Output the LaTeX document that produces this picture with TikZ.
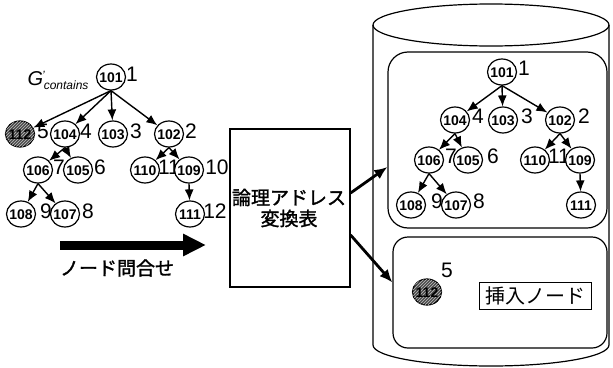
\documentclass[tikz,border=0pt]{standalone}
\usepackage{fontspec}
\setmainfont{Liberation Sans}
\newfontfamily\jpfont{Noto Sans CJK JP}
\newfontfamily\jpbfont[FakeBold=1.5]{Noto Sans CJK JP}
\usetikzlibrary{arrows.meta,patterns,shapes.geometric}
\newcommand{\cn}[1]{\smash{\makebox[0pt]{\raisebox{-5pt}{#1}}}}
\tikzset{
  tn/.style={ellipse, draw, fill=white, line width=1.2pt, minimum width=29pt, minimum height=26pt, inner sep=0pt, font=\fontsize{14}{14}\selectfont\bfseries},
  hat/.style={tn, fill=black!70, postaction={pattern=north east lines, pattern color=black!25}},
  num/.style={font=\fontsize{21}{21}\selectfont, inner sep=0pt},
  tarr/.style={-{Latex[length=11pt,width=9pt]}, line width=1.4pt},
  barr/.style={-{Latex[length=13pt,width=11pt]}, line width=2.8pt},
  jp/.style={font=\jpbfont\fontsize{19}{21}\selectfont, inner sep=0pt},
}
\begin{document}
\begin{tikzpicture}[x=1pt,y=-1pt]
\useasboundingbox (0,0) rectangle (613,367);
% ---------- left tree ----------
\node[num] (lg) at (58,80) {{\fontsize{20}{20}\selectfont\itshape G}\hspace{-1pt}\raisebox{6pt}{\fontsize{12}{12}\selectfont\itshape '}\hspace{-1pt}\raisebox{-4pt}{\fontsize{12}{12}\selectfont\itshape contains}};
\node[num] (l1) at (132,74) {1};
\node[num] (l5) at (43,131) {5};
\node[num] (l4) at (86,131) {4};
\node[num] (l3) at (136,131) {3};
\node[num] (l2) at (191,131) {2};
\node[num] (l7) at (59,167) {7};
\node[num] (l6) at (100,167) {6};
\node[num] (l11) at (169,167) {11};
\node[num] (l10) at (217,167) {10};
\node[num] (l9) at (46,211) {9};
\node[num] (l8) at (88,211) {8};
\node[num] (l12) at (215,211) {12};
\node[tn] (a101) at (111,77) {\cn{101}};
\node[hat] (a112) at (20,134) {\cn{112}};
\node[tn] (a104) at (65,134) {\cn{104}};
\node[tn] (a103) at (113,134) {\cn{103}};
\node[tn] (a102) at (169,134) {\cn{102}};
\node[tn] (a106) at (38,170) {\cn{106}};
\node[tn] (a105) at (78,170) {\cn{105}};
\node[tn] (a110) at (145,170) {\cn{110}};
\node[tn] (a109) at (189,170) {\cn{109}};
\node[tn] (a108) at (21,214) {\cn{108}};
\node[tn] (a107) at (65,214) {\cn{107}};
\node[tn] (a111) at (190,214) {\cn{111}};
\draw[tarr] (a101.south) -- (a112);
\draw[tarr] (a101.south) -- (a104);
\draw[tarr] (a101.south) -- (a103);
\draw[tarr] (a101.south) -- (a102);
\draw[tarr] (a104.south) -- (a106);
\draw[tarr] (a104.south) -- (a105);
\draw[tarr] (a102.south) -- (a110);
\draw[tarr] (a102.south) -- (a109);
\draw[tarr] (a106.south) -- (a108);
\draw[tarr] (a106.south) -- (a107);
\draw[tarr] (a109.south) -- (a111);
% ---------- query arrow ----------
\coordinate (qa) at (60,245);
\coordinate (qb) at (206,245);
\draw[line width=9pt, -{Triangle[length=23pt,width=21pt]}] (qa) -- (qb);
\node[jp] (qt) at (117,268) {ノード問合せ};
% ---------- middle table ----------
\node[draw, line width=1.2pt, minimum width=120pt, minimum height=158pt, inner sep=0pt] (mid) at (290,208) {};
\node[jp, align=center] (midt) at (289,208) {論理アドレス\\変換表};
% ---------- cylinder ----------
\draw[line width=1.2pt] (491,25) ellipse [x radius=118pt, y radius=21pt];
\draw[line width=1.2pt] (373,25) -- (373,345) arc[start angle=180, end angle=360, x radius=118pt, y radius=21pt] -- (609,25);
\node[draw, line width=1.2pt, rounded corners=20pt, minimum width=219pt, minimum height=176pt, inner sep=0pt] (ubox) at (497.5,140) {};
\node[draw, line width=1.2pt, rounded corners=15pt, minimum width=214pt, minimum height=111pt, inner sep=0pt] (lbox) at (500,292.5) {};
% ---------- right tree ----------
\node[num] (r1) at (524,68) {1};
\node[num] (r4) at (478,116) {4};
\node[num] (r3) at (527,116) {3};
\node[num] (r2) at (584,116) {2};
\node[num] (r7) at (451,156) {7};
\node[num] (r6) at (493,156) {6};
\node[num] (r11) at (559,156) {11};
\node[num] (r9) at (437,201) {9};
\node[num] (r8) at (479,201) {8};
\node[tn] (b101) at (502,72) {\cn{101}};
\node[tn] (b104) at (455,120) {\cn{104}};
\node[tn] (b103) at (503,120) {\cn{103}};
\node[tn] (b102) at (560,120) {\cn{102}};
\node[tn] (b106) at (429,160) {\cn{106}};
\node[tn] (b105) at (468,160) {\cn{105}};
\node[tn] (b110) at (535,160) {\cn{110}};
\node[tn] (b109) at (580,160) {\cn{109}};
\node[tn] (b108) at (411,205) {\cn{108}};
\node[tn] (b107) at (456,205) {\cn{107}};
\node[tn] (b111) at (581,205) {\cn{111}};
\draw[tarr] (b101.south) -- (b104);
\draw[tarr] (b101.south) -- (b103);
\draw[tarr] (b101.south) -- (b102);
\draw[tarr] (b104.south) -- (b106);
\draw[tarr] (b104.south) -- (b105);
\draw[tarr] (b102.south) -- (b110);
\draw[tarr] (b102.south) -- (b109);
\draw[tarr] (b106.south) -- (b108);
\draw[tarr] (b106.south) -- (b107);
\draw[tarr] (b109.south) -- (b111);
% ---------- inserted node ----------
\node[num] (r5) at (447,270) {5};
\node[hat] (b112) at (427,292) {\cn{112}};
\node[draw, line width=1pt, minimum width=112pt, minimum height=27pt, inner sep=0pt, font=\jpfont\fontsize{20}{20}\selectfont] (ins) at (535,295.5) {挿入ノード};
% ---------- arrows from table ----------
\draw[barr] ([yshift=15pt]mid.east) -- ([yshift=-27pt]ubox.west);
\draw[barr] ([yshift=-27pt]mid.east) -- ([yshift=10pt]lbox.west);
\end{tikzpicture}
\end{document}
